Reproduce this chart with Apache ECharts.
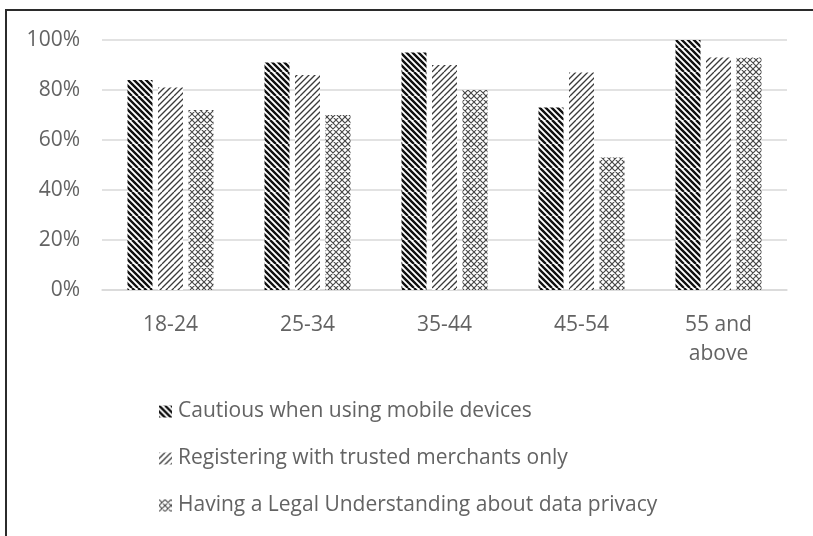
<!DOCTYPE html>
<html>
<head>
<meta charset="utf-8">
<script src="https://cdn.jsdelivr.net/npm/echarts@6/dist/echarts.min.js"></script>
<style>
  html, body { margin: 0; padding: 0; background: #fff; }
  #chart { width: 813px; height: 536px; }
</style>
</head>
<body>
<div id="chart"></div>
<script>
// Age groups on the x axis
const categories = ['18-24', '25-34', '35-44', '45-54', '55 and\nabove'];
// Share of respondents (%) per behaviour
const cautious = [84, 91, 95, 73, 100];
const registering = [81, 86, 90, 87, 93];
const legal = [72, 70, 80, 53, 93];
// Y axis ticks
const yTicks = { min: 0, max: 100, interval: 20 };

const seriesNames = [
  'Cautious when using mobile devices',
  'Registering with trusted merchants only',
  'Having a Legal Understanding about data privacy'
];

// Hatch fill tiles drawn on small canvases
function hatch(opts) {
  const size = 24, step = opts.step;
  const c = document.createElement('canvas');
  c.width = size; c.height = size;
  const g = c.getContext('2d');
  g.fillStyle = '#ffffff';
  g.fillRect(0, 0, size, size);
  g.strokeStyle = opts.color;
  g.lineWidth = opts.width;
  g.lineCap = 'butt';
  g.beginPath();
  for (let o = -size; o <= size * 2; o += step) {
    if (opts.down) { g.moveTo(o, 0); g.lineTo(o + size, size); }
    if (opts.up) { g.moveTo(o, size); g.lineTo(o + size, 0); }
  }
  g.stroke();
  return { image: c, repeat: 'repeat' };
}

const fillCautious = hatch({ step: 6, width: 2.4, color: '#111111', down: true });
const fillRegistering = hatch({ step: 6, width: 1.3, color: '#3a3a3a', up: true });
const fillLegal = hatch({ step: 6, width: 1.1, color: '#4a4a4a', up: true, down: true });

const textColor = '#636363';
const fontFamily = '"Open Sans", "Noto Sans", sans-serif';
const fontSize = 21;

const chart = echarts.init(document.getElementById('chart'), null, { renderer: 'canvas' });

function barSeries(name, data, fill) {
  return {
    name: name,
    type: 'bar',
    data: data,
    barWidth: 25,
    barGap: '22%',
    itemStyle: { color: fill },
    emphasis: { disabled: true }
  };
}

chart.setOption({
  animation: false,
  backgroundColor: '#ffffff',
  graphic: [{
    type: 'rect',
    shape: { x: 6, y: 10, width: 900, height: 700 },
    style: { fill: null, stroke: '#2b2b2b', lineWidth: 2 },
    silent: true
  }],
  grid: { left: 102, right: 26, top: 40, height: 250 },
  xAxis: {
    type: 'category',
    data: categories,
    axisLine: { show: true, lineStyle: { color: '#d9d9d9', width: 1.5 } },
    axisTick: { show: false },
    axisLabel: {
      color: textColor, fontFamily: fontFamily, fontSize: fontSize,
      lineHeight: 29, margin: 21
    }
  },
  yAxis: {
    type: 'value',
    min: yTicks.min, max: yTicks.max, interval: yTicks.interval,
    axisLine: { show: false },
    axisTick: { show: false },
    splitLine: { lineStyle: { color: '#d9d9d9', width: 1.5 } },
    axisLabel: {
      color: textColor, fontFamily: fontFamily, fontSize: fontSize,
      margin: 22, formatter: '{value}%'
    }
  },
  legend: {
    orient: 'vertical',
    left: 154,
    top: 396,
    itemWidth: 13,
    itemHeight: 12,
    itemGap: 26,
    icon: 'rect',
    selectedMode: false,
    textStyle: {
      color: textColor, fontFamily: fontFamily, fontSize: fontSize,
      lineHeight: 20, padding: [0, 0, 0, 1]
    },
    data: seriesNames
  },
  series: [
    barSeries(seriesNames[0], cautious, fillCautious),
    barSeries(seriesNames[1], registering, fillRegistering),
    barSeries(seriesNames[2], legal, fillLegal)
  ]
});
</script>
</body>
</html>
